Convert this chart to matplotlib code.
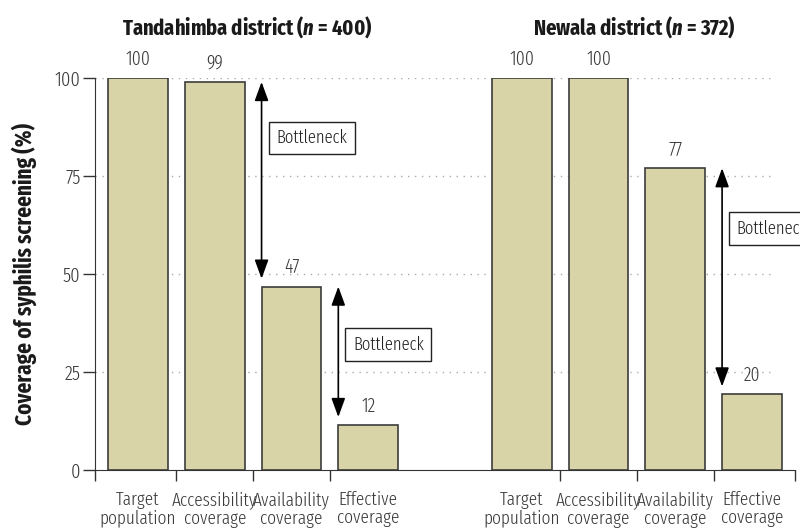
import matplotlib
matplotlib.use("Agg")
import matplotlib.pyplot as plt

FONT = "Fira Sans Extra Condensed"
plt.rcParams.update({
    "font.family": [FONT, "DejaVu Sans"],
    "font.weight": 300,
    "mathtext.fontset": "custom",
    "mathtext.rm": FONT,
    "mathtext.it": FONT + ":italic",
    "mathtext.bf": FONT + ":bold",
    "mathtext.bfit": FONT + ":italic:bold",
})

# ---- data ----
categories = ["Target\npopulation", "Accessibility\ncoverage",
              "Availability\ncoverage", "Effective\ncoverage"]
districts = [r"Tandahimba district ($\mathbfit{n}$ = 400)",
             r"Newala district ($\mathbfit{n}$ = 372)"]
tandahimba_values = [100, 99, 46.8, 11.5]
newala_values = [100, 100, 77, 19.3]
tandahimba_labels = ["100", "99", "47", "12"]
newala_labels = ["100", "100", "77", "20"]
yticks = [0, 25, 50, 75, 100]
# bottlenecks: (district index, from category index, to category index)
bottlenecks = [(0, 1, 2), (0, 2, 3), (1, 2, 3)]
bottleneck_text = "Bottleneck"

BAR_COLOR = "#D8D4A7"
EDGE = "#3c3c3c"
TXT = "#3a3a3a"
W = 0.78

fig = plt.figure(figsize=(8, 5.32), dpi=100)
ax = fig.add_axes([95 / 800, 1 - 470 / 532, 700 / 800, 392 / 532])

groups = [tandahimba_values, newala_values]
group_labels = [tandahimba_labels, newala_labels]
offsets = [0, 5]
xlo, xhi = -0.56, 8.56
ax.set_xlim(xlo, xhi)
ax.set_ylim(0, 100)

centers = []
for g, (vals, labs) in enumerate(zip(groups, group_labels)):
    xs = [offsets[g] + i for i in range(len(vals))]
    centers += xs
    ax.bar(xs, vals, width=W, color=BAR_COLOR, edgecolor=EDGE, linewidth=1.2, zorder=3)
    for x, v, l in zip(xs, vals, labs):
        ax.annotate(l, (x, v), xytext=(0, 9.5), textcoords="offset points",
                    ha="center", va="baseline", fontsize=14, color=TXT)

# gridlines
for t in yticks[1:]:
    ax.plot([xlo, 8.3], [t, t], ls=(0, (1, 4)), color="#aaaaaa", lw=1.0, zorder=1)

# arrows and bottleneck boxes
box_y = [84.7, 32, 61.5]
for (g, a, b), by in zip(bottlenecks, box_y):
    vals = groups[g]
    x = offsets[g] + b - W / 2
    ax.annotate("", xy=(x, vals[b] + 2), xytext=(x, vals[a]),
                arrowprops=dict(arrowstyle="<|-|>,head_length=1.15,head_width=0.42",
                                mutation_scale=10, color="black", lw=1.2,
                                shrinkA=0, shrinkB=0), zorder=4)
    ax.annotate(bottleneck_text, (x, by), xytext=(10.5, 0), textcoords="offset points",
                ha="left", va="center", fontsize=13, color="#222222",
                bbox=dict(boxstyle="square,pad=0.42", fc="white", ec="#222222", lw=1.0),
                annotation_clip=False, zorder=5)

# titles
title_x = [1.42, 6.47]
for g, t in enumerate(districts):
    ax.text(title_x[g], 113, t, ha="center", va="center",
            fontsize=16, fontweight="bold", color="#1a1a1a")

# axes styling
for s in ["top", "right"]:
    ax.spines[s].set_visible(False)
ax.spines["left"].set_bounds(0, 100)
ax.spines["left"].set_color("#333333")
ax.spines["bottom"].set_color("#333333")
ax.set_yticks(yticks)
ax.set_yticklabels([str(t) for t in yticks])
ax.tick_params(axis="y", length=8.5, width=1.0, color="#333333", labelsize=14.5,
               labelcolor=TXT, pad=2)
ax.set_xticks([xlo, 0.5, 1.5, 2.5, 5.5, 6.5, 7.5, xhi])
ax.set_xticklabels([""] * 8)
ax.tick_params(axis="x", which="major", length=8, width=1.0, color="#333333")
ax.set_xticks(centers, minor=True)
ax.set_xticklabels(categories * 2, minor=True)
ax.tick_params(axis="x", which="minor", length=0, pad=15, labelsize=13.5,
               labelcolor=TXT)
for lbl in ax.get_xticklabels(minor=True):
    lbl.set_linespacing(1.05)

ax.set_ylabel("Coverage of syphilis screening (%)", fontsize=16.5, fontweight="bold",
              color="#1a1a1a")
ax.yaxis.set_label_coords(-0.083, 0.5)

fig.savefig("out.png", dpi=100)
